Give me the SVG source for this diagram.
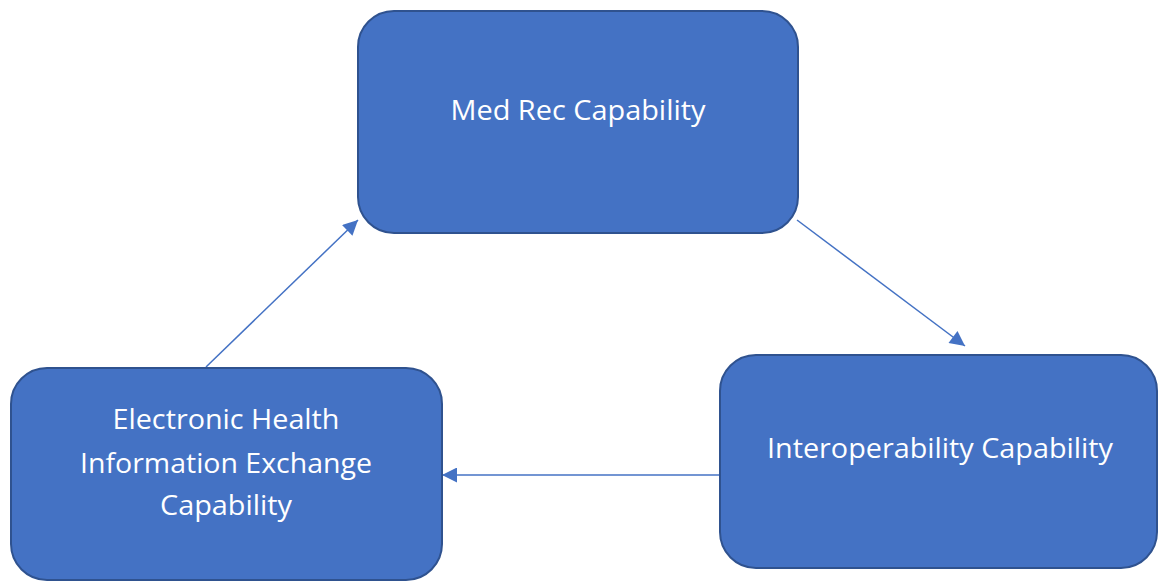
<svg xmlns="http://www.w3.org/2000/svg" width="1158" height="581" viewBox="0 0 1158 581">
<defs>
<style>
.box{fill:#4472C4;stroke:#2F528F;stroke-width:2}
.lbl{fill:#FFFFFF;font-family:"Open Sans","Noto Sans",sans-serif;font-size:27px;text-anchor:middle}
.conn{stroke:#4472C4;stroke-width:1.5;fill:none}
</style>
<marker id="ah2" viewBox="0 0 10 10" refX="10" refY="5" markerWidth="19" markerHeight="15" markerUnits="userSpaceOnUse" orient="auto">
<path d="M0,0 L10,5 L0,10 z" fill="#4472C4"/>
</marker>
</defs>
<rect width="1158" height="581" fill="#FFFFFF"/>
<g id="connectors">
<line class="conn" x1="206" y1="367" x2="358" y2="220" marker-end="url(#ah2)"/>
<line class="conn" x1="797" y1="220" x2="965" y2="346" marker-end="url(#ah2)"/>
<line class="conn" x1="720" y1="475" x2="442" y2="475" marker-end="url(#ah2)"/>
</g>
<g id="node-medrec">
<rect class="box" x="358" y="11" width="440" height="222" rx="36" ry="36"/>
<text class="lbl" x="578" y="120" textLength="255" lengthAdjust="spacingAndGlyphs">Med Rec Capability</text>
</g>
<g id="node-interop">
<rect class="box" x="720" y="355" width="437" height="213" rx="36" ry="36"/>
<text class="lbl" x="940" y="458" textLength="346" lengthAdjust="spacingAndGlyphs">Interoperability Capability</text>
</g>
<g id="node-ehie">
<rect class="box" x="11" y="368" width="431" height="212" rx="36" ry="36"/>
<text class="lbl" x="226" y="429" textLength="227" lengthAdjust="spacingAndGlyphs">Electronic Health</text>
<text class="lbl" x="226" y="473" textLength="292" lengthAdjust="spacingAndGlyphs">Information Exchange</text>
<text class="lbl" x="226" y="515" textLength="132" lengthAdjust="spacingAndGlyphs">Capability</text>
</g>
</svg>
